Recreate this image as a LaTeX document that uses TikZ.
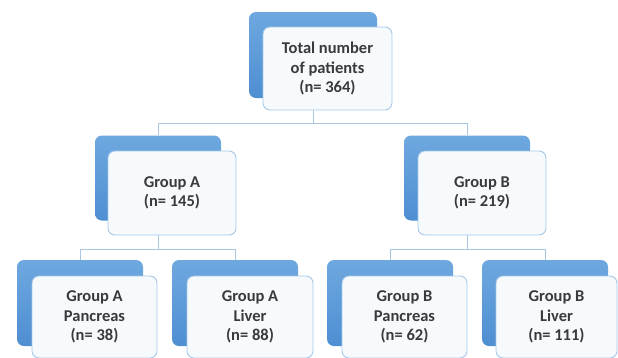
\documentclass[tikz,border=0pt]{standalone}
\usepackage{fontspec}
\setmainfont{Carlito}
\begin{document}
\begin{tikzpicture}[x=1pt,y=-1pt,
  backbox/.style={rectangle, rounded corners=7pt, draw=none, top color=blueTop, bottom color=blueBot, minimum width=126pt, minimum height=85pt, inner sep=0pt},
  frontbox/.style={rectangle, rounded corners=7pt, draw=frontLine, line width=0.9pt, fill=frontFill, minimum width=128pt, minimum height=84pt, inner sep=2pt, align=center, font=\fontsize{16.5}{19.5}\selectfont\bfseries, text=textCol},
  link/.style={draw=linkCol, line width=0.9pt}
]
\definecolor{blueTop}{HTML}{6EA8DF}
\definecolor{blueBot}{HTML}{4E8ED2}
\definecolor{frontLine}{HTML}{A6C8E8}
\definecolor{frontFill}{HTML}{F6FAFD}
\definecolor{textCol}{HTML}{3A3A3A}
\definecolor{linkCol}{HTML}{A9C6E2}
\useasboundingbox (0,0) rectangle (618,357);

% top
\node[backbox, minimum width=128pt, minimum height=86pt] (tb) at (313,55) {};
\node[frontbox, minimum width=129pt, minimum height=83pt] (t) at (327.5,68.5) {Total number\\of patients\\(n= 364)};

% group A/B
\node[backbox] (ab) at (158,178) {};
\node[frontbox] (a) at (172,193) {Group A\\(n= 145)};
\node[backbox] (bb) at (467,178) {};
\node[frontbox] (b) at (482,193) {Group B\\(n= 219)};

% bottom row
\node[backbox, minimum height=86pt] (apb) at (80,303) {};
\node[frontbox, minimum width=125pt, minimum height=82pt] (ap) at (94.5,317) {Group A\\Pancreas\\(n= 38)};
\node[backbox, minimum height=86pt] (alb) at (235,303) {};
\node[frontbox, minimum width=126pt, minimum height=82pt] (al) at (250,317) {Group A\\Liver\\(n= 88)};
\node[backbox, minimum height=86pt] (bpb) at (390,303) {};
\node[frontbox, minimum width=125pt, minimum height=82pt] (bp) at (404.5,317) {Group B\\Pancreas\\(n= 62)};
\node[backbox, minimum height=86pt] (blb) at (545,303) {};
\node[frontbox, minimum width=121pt, minimum height=82pt] (bl) at (556.5,317) {Group B\\Liver\\(n= 111)};

% connectors
\coordinate (j1) at (313,123.5);
\coordinate (j2) at (158,249.5);
\coordinate (j3) at (467,249.5);
\draw[link] (tb.south |- t.south) -- (j1);
\draw[link] (j1) -| (ab.north);
\draw[link] (j1) -| (bb.north);
\draw[link] (ab.south |- a.south) -- (j2);
\draw[link] (j2) -| (apb.north);
\draw[link] (j2) -| (alb.north);
\draw[link] (bb.south |- b.south) -- (j3);
\draw[link] (j3) -| (bpb.north);
\draw[link] (j3) -| (blb.north);
\end{tikzpicture}
\end{document}
